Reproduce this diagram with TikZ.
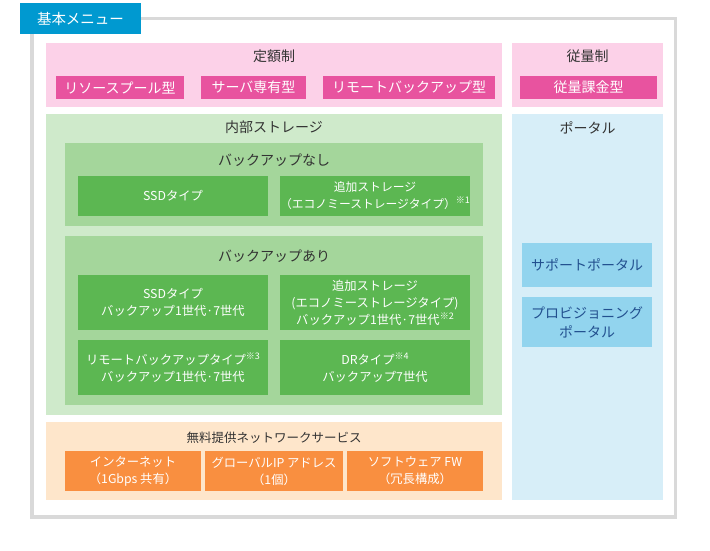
\documentclass[tikz,border=0pt]{standalone}
\usepackage{fontspec}
\setmainfont{Noto Sans CJK JP}
\definecolor{framegray}{HTML}{D9D9D9}
\definecolor{labelblue}{HTML}{0099D0}
\definecolor{pinkbg}{HTML}{FCD1E8}
\definecolor{pinkitem}{HTML}{E8539F}
\definecolor{greenA}{HTML}{CFEACB}
\definecolor{greenB}{HTML}{A4D69B}
\definecolor{greenC}{HTML}{5CB752}
\definecolor{peach}{HTML}{FEE6CB}
\definecolor{orangeitem}{HTML}{F98F40}
\definecolor{blueA}{HTML}{D7EEF8}
\definecolor{blueB}{HTML}{92D4EE}
\definecolor{bluetext}{HTML}{22508F}
\definecolor{titletext}{HTML}{333333}
\newcommand\notemark[1]{\raisebox{0.42em}{\fontsize{9}{9}\selectfont ※#1}}
\begin{document}
\begin{tikzpicture}[x=1pt,y=-1pt,
  area/.style={rectangle,inner sep=0pt,outer sep=0pt},
  ttl/.style={text=titletext,font=\fontsize{14}{16}\selectfont,inner sep=0pt},
  pitem/.style={area,fill=pinkitem,text=white,font=\fontsize{14}{16}\selectfont},
  gitem/.style={area,fill=greenC,text=white,align=center,font=\fontsize{12.3}{17}\selectfont},
  oitem/.style={area,fill=orangeitem,text=white,align=center,font=\fontsize{12.3}{17}\selectfont},
  bitem/.style={area,fill=blueB,text=bluetext,align=center,font=\fontsize{14}{19}\selectfont}]
\useasboundingbox (0,0) rectangle (710,550);
% outer frame
\node[area,draw=framegray,line width=3.5pt,minimum width=643.5pt,minimum height=498.5pt] (frame) at (353.75,267.75) {};
\node[area,fill=labelblue,text=white,font=\fontsize{14.5}{16}\selectfont,minimum width=121pt,minimum height=31pt] (label) at (80.5,18.5) {基本メニュー};
% pricing
\node[area,fill=pinkbg,minimum width=456pt,minimum height=64pt] (teigaku) at (274,75) {};
\node[ttl] (teigakut) at (274,56) {定額制};
\node[area,fill=pinkbg,minimum width=151pt,minimum height=64pt] (juryo) at (587.5,75) {};
\node[ttl] (juryot) at (587.5,56) {従量制};
\node[pitem,minimum width=128pt,minimum height=23pt] (rp) at (120,87.5) {リソースプール型};
\node[pitem,minimum width=105pt,minimum height=23pt] (sv) at (253.5,87.5) {サーバ専有型};
\node[pitem,minimum width=172pt,minimum height=23pt] (rb) at (409,87.5) {リモートバックアップ型};
\node[pitem,minimum width=137pt,minimum height=23pt] (jk) at (588.5,87.5) {従量課金型};
% storage
\node[area,fill=greenA,minimum width=456pt,minimum height=301pt] (storage) at (274,264.5) {};
\node[ttl] (storaget) at (274,127) {内部ストレージ};
\node[area,fill=greenB,minimum width=418pt,minimum height=83pt] (nobk) at (274,184.5) {};
\node[ttl] (nobkt) at (274,160) {バックアップなし};
\node[gitem,minimum width=190pt,minimum height=40pt] (ssd1) at (173,196) {SSDタイプ};
\node[gitem,minimum width=190pt,minimum height=40pt,font=\fontsize{11.8}{17}\selectfont] (add1) at (375,196) {追加ストレージ\\（エコノミーストレージタイプ）\notemark{1}};
\node[area,fill=greenB,minimum width=418pt,minimum height=169pt] (bk) at (274,320.5) {};
\node[ttl] (bkt) at (274,256) {バックアップあり};
\node[gitem,minimum width=190pt,minimum height=55pt] (ssd2) at (173,302.5) {SSDタイプ\\バックアップ1世代·7世代};
\node[gitem,minimum width=190pt,minimum height=55pt] (add2) at (375,302.5) {追加ストレージ\\(エコノミーストレージタイプ)\\バックアップ1世代·7世代\notemark{2}};
\node[gitem,minimum width=190pt,minimum height=55pt] (rem) at (173,367.5) {リモートバックアップタイプ\notemark{3}\\バックアップ1世代·7世代};
\node[gitem,minimum width=190pt,minimum height=55pt] (dr) at (375,367.5) {DRタイプ\notemark{4}\\バックアップ7世代};
% network
\node[area,fill=peach,minimum width=456pt,minimum height=78pt] (net) at (274,461) {};
\node[ttl,font=\fontsize{12.5}{15}\selectfont] (nett) at (274,438) {無料提供ネットワークサービス};
\node[oitem,minimum width=136pt,minimum height=40pt] (inet) at (133,471) {インターネット\\（1Gbps 共有）};
\node[oitem,minimum width=138pt,minimum height=40pt] (gip) at (274,471) {グローバルIP アドレス\\（1個）};
\node[oitem,minimum width=136pt,minimum height=40pt] (fw) at (415,471) {ソフトウェア FW\\（冗長構成）};
% portal
\node[area,fill=blueA,minimum width=151pt,minimum height=386pt] (portal) at (587.5,307) {};
\node[ttl] (portalt) at (587.5,128) {ポータル};
\node[bitem,minimum width=130pt,minimum height=44pt] (sp) at (587,265) {サポートポータル};
\node[bitem,minimum width=130pt,minimum height=50pt] (pv) at (587,322) {プロビジョニング\\ポータル};
\end{tikzpicture}
\end{document}
